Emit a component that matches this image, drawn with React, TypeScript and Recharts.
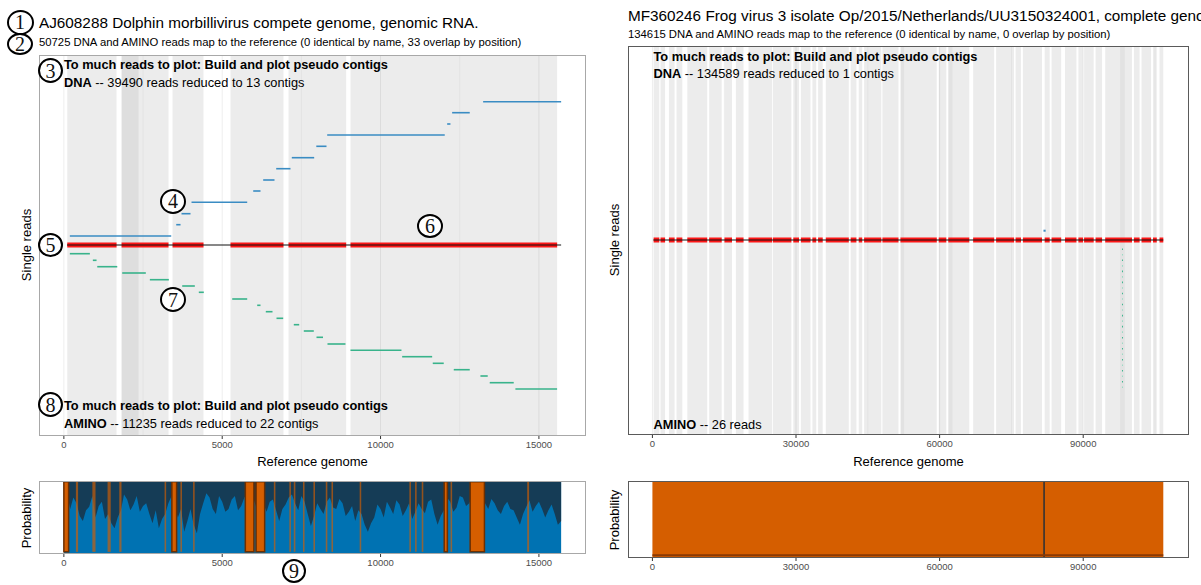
import React from 'react';
import { ComposedChart, XAxis, YAxis, ReferenceArea, ReferenceLine, Area } from 'recharts';

const W = 1201;
const H = 585;
const FONT = '"Liberation Sans", Arial, Helvetica, sans-serif';

// ---------------- Left genome: AJ608288 ----------------
const leftGenomeLength = 15702;
const leftTicks = [0, 5000, 10000, 15000];
const leftGrid = [0, 2500, 5000, 7500, 10000, 12500, 15000];
const leftCoverStart = [107, 1822, 3431, 5262, 7093, 9051];
const leftCoverEnd = [1664, 3305, 4410, 6935, 8915, 15576];
const leftDarkBandStart = [1822];
const leftDarkBandEnd = [2358];

const dnaStart = [189, 3548, 3715, 4031, 5979, 6294, 6705, 7197, 7971, 8315, 12103, 12260, 13239];
const dnaEnd = [3390, 3684, 3999, 5789, 6209, 6651, 7156, 7904, 8293, 12027, 12207, 12816, 15702];
const dnaRow = [9, 20.3, 31.3, 42.7, 54, 65, 76.3, 87.3, 98.7, 110, 121, 132.3, 143.3];

const aminoStart = [189, 915, 1054, 1843, 2715, 3737, 4261, 5316, 6105, 6376, 6714, 7260, 7576, 7977, 8324, 9050, 10682, 11648, 12311, 13153, 13447, 14258];
const aminoEnd = [821, 1032, 1686, 2588, 3315, 4135, 4419, 5789, 6209, 6588, 6925, 7431, 7892, 8182, 8892, 10660, 11629, 11995, 12816, 13384, 14205, 15574];
const aminoRow = [-8.7, -15.3, -21.7, -28, -34.7, -41, -47.3, -54, -60.3, -66.7, -73.3, -79.7, -86, -92.3, -99, -105.3, -111.7, -118.3, -124.7, -131, -137.7, -144];

const probX = [
  0, 100, 200, 300, 400, 500, 600, 700, 800, 900, 1000, 1100, 1200, 1300, 1400, 1500, 1600, 1700, 1800, 1900,
  2000, 2100, 2200, 2300, 2400, 2500, 2600, 2700, 2800, 2900, 3000, 3100, 3200, 3300, 3400, 3500, 3600, 3700, 3800, 3900,
  4000, 4100, 4200, 4300, 4400, 4500, 4600, 4700, 4800, 4900, 5000, 5100, 5200, 5300, 5400, 5500, 5600, 5700, 5800, 5900,
  6000, 6100, 6200, 6300, 6400, 6500, 6600, 6700, 6800, 6900, 7000, 7100, 7200, 7300, 7400, 7500, 7600, 7700, 7800, 7900,
  8000, 8100, 8200, 8300, 8400, 8500, 8600, 8700, 8800, 8900, 9000, 9100, 9200, 9300, 9400, 9500, 9600, 9700, 9800, 9900,
  10000, 10100, 10200, 10300, 10400, 10500, 10600, 10700, 10800, 10900, 11000, 11100, 11200, 11300, 11400, 11500, 11600, 11700, 11800, 11900,
  12000, 12100, 12200, 12300, 12400, 12500, 12600, 12700, 12800, 12900, 13000, 13100, 13200, 13300, 13400, 13500, 13600, 13700, 13800, 13900,
  14000, 14100, 14200, 14300, 14400, 14500, 14600, 14700, 14800, 14900, 15000, 15100, 15200, 15300, 15400, 15500, 15600, 15702,
];
const darkLow = [
  0.9, 0.85, 0.62, 0.78, 0.7, 0.52, 0.45, 0.6, 0.65, 0.8, 0.5, 0.66, 0.72, 0.48, 0.55, 0.42, 0.35, 0.5, 0.6, 0.82,
  0.75, 0.6, 0.68, 0.8, 0.58, 0.66, 0.7, 0.55, 0.42, 0.6, 0.35, 0.48, 0.55, 0.7, 0.8, 0.65, 0.5, 0.62, 0.3, 0.45,
  0.62, 0.4, 0.28, 0.55, 0.7, 0.84, 0.78, 0.62, 0.55, 0.8, 0.72, 0.58, 0.62, 0.75, 0.8, 0.6, 0.66, 0.78, 0.85, 0.7,
  0.74, 0.62, 0.8, 0.7, 0.58, 0.72, 0.75, 0.6, 0.45, 0.62, 0.68, 0.78, 0.82, 0.7, 0.6, 0.8, 0.72, 0.55, 0.38, 0.52,
  0.7, 0.62, 0.55, 0.72, 0.78, 0.64, 0.62, 0.76, 0.7, 0.52, 0.58, 0.66, 0.45, 0.6, 0.55, 0.4, 0.3, 0.42, 0.5, 0.68,
  0.62, 0.5, 0.72, 0.64, 0.55, 0.74, 0.68, 0.52, 0.6, 0.7, 0.48, 0.58, 0.7, 0.62, 0.56, 0.72, 0.75, 0.55, 0.4, 0.52,
  0.6, 0.78, 0.72, 0.58, 0.64, 0.8, 0.78, 0.66, 0.7, 0.82, 0.85, 0.74, 0.8, 0.7, 0.62, 0.76, 0.7, 0.6, 0.55, 0.66,
  0.72, 0.62, 0.6, 0.5, 0.4, 0.55, 0.65, 0.74, 0.58, 0.66, 0.72, 0.62, 0.5, 0.6, 0.68, 0.55, 0.4, 0.45,
];

const orangeStart = [0, 380, 900, 1380, 1750, 3180, 3410, 3680, 4080, 5730, 6070, 6630, 7120, 7260, 7550, 7880, 8270, 8450, 9340, 10910, 11090, 11300, 12010, 12210, 12830, 14630];
const orangeEnd = [150, 450, 1000, 1480, 1820, 3230, 3560, 3730, 4130, 6000, 6340, 6680, 7170, 7310, 7600, 7930, 8320, 8500, 9390, 10960, 11140, 11350, 12110, 12260, 13280, 14690];
const orangeOutlined = [true, false, false, false, false, false, true, false, false, true, true, false, false, false, false, false, false, false, false, false, false, false, true, false, true, false];

// ---------------- Right genome: MF360246 ----------------
const rightGenomeLength = 106730;
const rightTicks = [0, 30000, 60000, 90000];
const rightGrid = [0, 15000, 30000, 45000, 60000, 75000, 90000, 105000];
const rightCoverStart = [250, 1690, 3450, 5030, 7290, 11850, 15050, 17440, 20080, 25190, 29430, 31020, 33420, 34610, 36220, 41420, 43100, 44220, 48050, 51810, 59810, 61810, 67000, 71800, 75870, 77400, 81950, 83390, 86190, 88990, 90180, 92580, 94590, 100590, 102180, 104580, 105940];
const rightCoverEnd = [1440, 2650, 4640, 6250, 11450, 14480, 16630, 19040, 25030, 29040, 30630, 33030, 34220, 35580, 41030, 42620, 43830, 47820, 51410, 59410, 61400, 66200, 71400, 75560, 77000, 81390, 83000, 85400, 88590, 89950, 92190, 93940, 100190, 101780, 104180, 105370, 106730];
const rightDarkBandStart = [51900, 61800, 97700];
const rightDarkBandEnd = [52600, 62700, 98700];
const rightDnaStart = [81700];
const rightDnaEnd = [82150];
const rightDnaRow = [9.3];
const rightAminoStart = 98100;
const rightAminoEnd = 98300;
const rightAminoRow = [-9.3, -14.8, -20.3, -25.9, -31.4, -36.9, -42.4, -48.0, -53.5, -59.0, -64.5, -70.0, -75.6, -81.1, -86.6, -92.1, -97.7, -103.2, -108.7, -114.2, -119.8, -125.3, -130.8, -136.3, -141.8, -147.3];
const rightDarkStripeStart = 81650;
const rightDarkStripeEnd = 82000;

// ---------------- colours ----------------
const BLUE_LINE = '#3a8cc3';
const GREEN_LINE = '#38b38b';
const GREEN_LIGHT = '#98d9c2';
const RED = '#ff0000';
const PROB_BLUE = '#0072B2';
const PROB_ORANGE = '#D55E00';

type Rect = [number, number, number, number];

function Frame(props: {
  rect: Rect;
  xDomain: [number, number];
  yDomain: [number, number];
  data?: any[];
  ticks?: number[];
  children?: React.ReactNode;
}) {
  const { rect, xDomain, yDomain, data, ticks, children } = props;
  const [x0, y0, x1, y1] = rect;
  const showAxis = !!ticks;
  const axisH = 20;
  return (
    <div style={{ position: 'absolute', left: 0, top: 0, width: W, height: H, pointerEvents: 'none' }}>
      <ComposedChart
        width={W}
        height={H}
        data={data || [{ x: xDomain[0] }, { x: xDomain[1] }]}
        margin={{ left: x0, top: y0, right: W - x1, bottom: H - y1 - (showAxis ? axisH : 0) }}
      >
        <XAxis
          dataKey="x"
          type="number"
          domain={xDomain}
          allowDataOverflow
          hide={!showAxis}
          ticks={ticks}
          interval={0}
          height={axisH}
          axisLine={false}
          tickLine={{ stroke: '#333333' }}
          tickSize={3}
          tickMargin={2}
          tick={{ fontSize: 9.5, fill: '#4d4d4d', fontFamily: FONT }}
        />
        <YAxis type="number" domain={yDomain} allowDataOverflow hide />
        {children}
      </ComposedChart>
    </div>
  );
}

function Txt(props: { x: number; y: number; size: number; children: React.ReactNode; anchor?: 'start' | 'middle'; rotate?: boolean; bold?: boolean }) {
  const { x, y, size, children, anchor = 'start', rotate = false, bold = false } = props;
  let transform = 'translateY(-50%)';
  if (anchor === 'middle') transform = 'translate(-50%,-50%)';
  if (rotate) transform = 'translate(-50%,-50%) rotate(-90deg)';
  return (
    <div
      style={{
        position: 'absolute',
        left: x,
        top: y,
        transform,
        fontFamily: FONT,
        fontSize: size,
        lineHeight: `${size}px`,
        fontWeight: bold ? 'bold' : 'normal',
        whiteSpace: 'nowrap',
        color: '#000',
      }}
    >
      {children}
    </div>
  );
}

function Border(props: { rect: Rect; color: string }) {
  const [x0, y0, x1, y1] = props.rect;
  return (
    <div
      style={{
        position: 'absolute',
        left: x0,
        top: y0,
        width: x1 - x0,
        height: y1 - y0,
        border: `1px solid ${props.color}`,
        boxSizing: 'border-box',
        pointerEvents: 'none',
      }}
    />
  );
}

const circles = [
  { n: '1', cx: 20, cy: 22, w: 27, h: 25 },
  { n: '2', cx: 20, cy: 43.5, w: 26, h: 22 },
  { n: '3', cx: 50.5, cy: 70.5, w: 25, h: 25 },
  { n: '4', cx: 173, cy: 201, w: 26, h: 25 },
  { n: '5', cx: 50.5, cy: 245, w: 25, h: 24 },
  { n: '6', cx: 430, cy: 225.5, w: 26, h: 24 },
  { n: '7', cx: 173, cy: 299.5, w: 26, h: 25 },
  { n: '8', cx: 50.5, cy: 404.5, w: 25, h: 25 },
  { n: '9', cx: 294, cy: 571, w: 24, h: 24 },
];

const LEFT_MAIN: Rect = [39, 55, 586, 436];
const LEFT_PROB: Rect = [39, 481, 586, 554];
const RIGHT_MAIN: Rect = [628, 46, 1189, 435];
const RIGHT_PROB: Rect = [628, 481, 1189, 558];
const LEFT_XDOM: [number, number] = [-785, 16487];
const RIGHT_XDOM: [number, number] = [-5100, 112100];

export default function App() {
  const probData = probX.map((x, i) => ({ x, dark: [darkLow[i], 1], full: [0, 1] }));

  return (
    <div style={{ position: 'absolute', left: 0, top: 0, width: W, height: H, overflow: 'hidden', background: '#fff' }}>
      {/* ---------- LEFT MAIN PANEL ---------- */}
      <Frame rect={LEFT_MAIN} xDomain={LEFT_XDOM} yDomain={[-191, 190]} ticks={leftTicks}>
        {leftGrid.map((g) => (
          <ReferenceLine key={'lg' + g} x={g} stroke="#000" strokeOpacity={g % 5000 === 0 ? 0.07 : 0.04} strokeWidth={1} />
        ))}
        {leftCoverStart.map((s, i) => (
          <ReferenceArea key={'lb' + i} x1={s} x2={leftCoverEnd[i]} fill="#000" fillOpacity={0.075} stroke="none" />
        ))}
        {leftDarkBandStart.map((s, i) => (
          <ReferenceArea key={'ld' + i} x1={s} x2={leftDarkBandEnd[i]} fill="#000" fillOpacity={0.06} stroke="none" />
        ))}
        {leftCoverStart.map((s, i) => (
          <ReferenceLine key={'lr' + i} segment={[{ x: s, y: 0 }, { x: leftCoverEnd[i], y: 0 }]} stroke={RED} strokeOpacity={0.9} strokeWidth={5} />
        ))}
        <ReferenceLine segment={[{ x: 100, y: 0 }, { x: leftGenomeLength, y: 0 }]} stroke="#111" strokeWidth={1} />
        {dnaStart.map((s, i) => (
          <ReferenceLine key={'ldna' + i} segment={[{ x: s, y: dnaRow[i] }, { x: dnaEnd[i], y: dnaRow[i] }]} stroke={BLUE_LINE} strokeWidth={1.6} />
        ))}
        {aminoStart.map((s, i) => (
          <ReferenceLine key={'lam' + i} segment={[{ x: s, y: aminoRow[i] }, { x: aminoEnd[i], y: aminoRow[i] }]} stroke={GREEN_LINE} strokeWidth={1.6} />
        ))}
      </Frame>

      {/* ---------- LEFT PROBABILITY PANEL ---------- */}
      <Frame rect={LEFT_PROB} xDomain={LEFT_XDOM} yDomain={[-0.01, 1.01]} data={probData}>
        <Area dataKey="full" type="linear" stroke="none" fill={PROB_BLUE} fillOpacity={1} isAnimationActive={false} dot={false} activeDot={false} />
        <Area dataKey="dark" type="linear" stroke="none" fill="#1a2e3e" fillOpacity={0.8} isAnimationActive={false} dot={false} activeDot={false} />
      </Frame>
      <Frame rect={LEFT_PROB} xDomain={LEFT_XDOM} yDomain={[-0.01, 1.01]} ticks={leftTicks}>
        {orangeStart.map((s, i) => (
          <ReferenceArea
            key={'or' + i}
            x1={s}
            x2={orangeEnd[i]}
            y1={0.02}
            y2={1}
            fill={PROB_ORANGE}
            fillOpacity={orangeOutlined[i] ? 1 : 0.65}
            stroke={orangeOutlined[i] ? '#6e2f00' : 'none'}
            strokeWidth={orangeOutlined[i] ? 1.5 : 0}
          />
        ))}
      </Frame>

      {/* ---------- RIGHT MAIN PANEL ---------- */}
      <Frame rect={RIGHT_MAIN} xDomain={RIGHT_XDOM} yDomain={[-195, 194]} ticks={rightTicks}>
        {rightGrid.map((g) => (
          <ReferenceLine key={'rg' + g} x={g} stroke="#000" strokeOpacity={g % 30000 === 0 ? 0.07 : 0.04} strokeWidth={1} />
        ))}
        {rightCoverStart.map((s, i) => (
          <ReferenceArea key={'rb' + i} x1={s} x2={rightCoverEnd[i]} fill="#000" fillOpacity={0.075} stroke="none" />
        ))}
        {rightDarkBandStart.map((s, i) => (
          <ReferenceArea key={'rd' + i} x1={s} x2={rightDarkBandEnd[i]} fill="#000" fillOpacity={0.04} stroke="none" />
        ))}
        {rightCoverStart.map((s, i) => (
          <ReferenceLine key={'rr' + i} segment={[{ x: s, y: 0 }, { x: rightCoverEnd[i], y: 0 }]} stroke={RED} strokeOpacity={0.9} strokeWidth={5} />
        ))}
        <ReferenceLine segment={[{ x: 200, y: 0 }, { x: rightGenomeLength, y: 0 }]} stroke="#111" strokeWidth={1.2} />
        {rightDnaStart.map((s, i) => (
          <ReferenceLine key={'rdna' + i} segment={[{ x: s, y: rightDnaRow[i] }, { x: rightDnaEnd[i], y: rightDnaRow[i] }]} stroke={BLUE_LINE} strokeWidth={2} />
        ))}
        {rightAminoRow.map((r, i) => (
          <ReferenceLine key={'ram' + i} segment={[{ x: rightAminoStart, y: r }, { x: rightAminoEnd, y: r }]} stroke={i % 2 === 0 ? GREEN_LINE : GREEN_LIGHT} strokeWidth={1.6} />
        ))}
      </Frame>

      {/* ---------- RIGHT PROBABILITY PANEL ---------- */}
      <Frame rect={RIGHT_PROB} xDomain={RIGHT_XDOM} yDomain={[0, 1]} ticks={rightTicks}>
        <ReferenceArea x1={0} x2={rightGenomeLength} fill={PROB_ORANGE} fillOpacity={1} stroke="none" />
        <ReferenceLine segment={[{ x: 0, y: 0.035 }, { x: rightGenomeLength, y: 0.035 }]} stroke="#8a3a05" strokeWidth={2} />
        <ReferenceArea x1={rightDarkStripeStart} x2={rightDarkStripeEnd} fill="#3b3430" fillOpacity={1} stroke="none" />
      </Frame>

      {/* ---------- borders ---------- */}
      <Border rect={LEFT_MAIN} color="#a8a8a8" />
      <Border rect={LEFT_PROB} color="#a8a8a8" />
      <Border rect={RIGHT_MAIN} color="#5a5a5a" />
      <Border rect={RIGHT_PROB} color="#5a5a5a" />

      {/* ---------- texts left ---------- */}
      <Txt x={39} y={23} size={15.3}>AJ608288 Dolphin morbillivirus compete genome, genomic RNA.</Txt>
      <Txt x={39} y={43} size={11.3}>50725 DNA and AMINO reads map to the reference (0 identical by name, 33 overlap by position)</Txt>
      <Txt x={64} y={65} size={12.8} bold>To much reads to plot: Build and plot pseudo contigs</Txt>
      <Txt x={64} y={82.5} size={12.8}><b>DNA</b> -- 39490 reads reduced to 13 contigs</Txt>
      <Txt x={64} y={406} size={12.8} bold>To much reads to plot: Build and plot pseudo contigs</Txt>
      <Txt x={64} y={424} size={12.8}><b>AMINO</b> -- 11235 reads reduced to 22 contigs</Txt>
      <Txt x={26} y={245} size={13} rotate>Single reads</Txt>
      <Txt x={312.5} y={461} size={13} anchor="middle">Reference genome</Txt>
      <Txt x={26} y={517.5} size={13} rotate>Probability</Txt>

      {/* ---------- texts right ---------- */}
      <Txt x={628} y={16} size={15.3}>MF360246 Frog virus 3 isolate Op/2015/Netherlands/UU3150324001, complete genome</Txt>
      <Txt x={628} y={35} size={11.3}>134615 DNA and AMINO reads map to the reference (0 identical by name, 0 overlap by position)</Txt>
      <Txt x={653.5} y={56.5} size={12.8} bold>To much reads to plot: Build and plot pseudo contigs</Txt>
      <Txt x={653.5} y={74} size={12.8}><b>DNA</b> -- 134589 reads reduced to 1 contigs</Txt>
      <Txt x={653.5} y={425} size={12.8}><b>AMINO</b> -- 26 reads</Txt>
      <Txt x={614} y={240} size={13} rotate>Single reads</Txt>
      <Txt x={908.5} y={461} size={13} anchor="middle">Reference genome</Txt>
      <Txt x={614} y={519.5} size={13} rotate>Probability</Txt>

      {/* ---------- circled annotation numbers ---------- */}
      {circles.map((c) => (
        <div
          key={'c' + c.n}
          style={{
            position: 'absolute',
            left: c.cx - c.w / 2,
            top: c.cy - c.h / 2,
            width: c.w,
            height: c.h,
            borderRadius: '50%',
            border: '2.5px solid #000',
            boxSizing: 'border-box',
            background: '#fff',
            display: 'flex',
            alignItems: 'center',
            justifyContent: 'center',
            fontFamily: '"Liberation Serif", "DejaVu Serif", serif',
            fontSize: 20,
            lineHeight: '20px',
            color: '#111',
          }}
        >
          {c.n}
        </div>
      ))}
    </div>
  );
}
